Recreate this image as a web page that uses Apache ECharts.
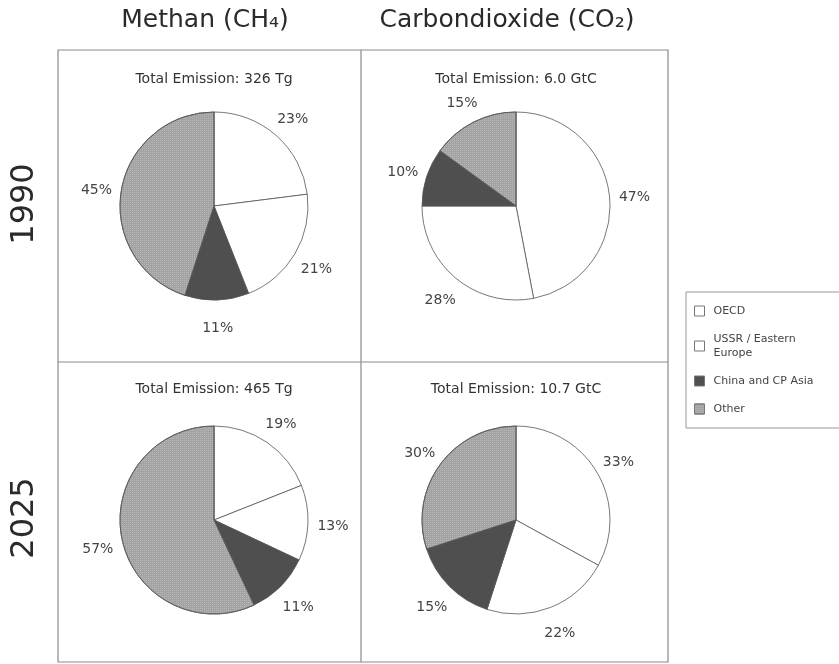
<!DOCTYPE html>
<html><head><meta charset="utf-8">
<script src="https://cdn.jsdelivr.net/npm/echarts/dist/echarts.min.js"></script>
<style>html,body{margin:0;padding:0;background:#fff}#c{width:839px;height:664px}</style>
</head><body><div id="c"></div>
<script>
// ---- data ----
const regions = ['OECD', 'USSR / Eastern Europe', 'China and CP Asia', 'Other'];
const gases = ['Methan (CH\u2084)', 'Carbondioxide (CO\u2082)'];
const years = ['1990', '2025'];
const totals1990 = ['Total Emission: 326 Tg', 'Total Emission: 6.0 GtC'];
const totals2025 = ['Total Emission: 465 Tg', 'Total Emission: 10.7 GtC'];
const ch4_1990 = [23, 21, 11, 45];
const co2_1990 = [47, 28, 10, 15];
const ch4_2025 = [19, 13, 11, 57];
const co2_2025 = [33, 22, 15, 30];

// ---- styling / layout ----
const FONT = 'DejaVu Sans';
const fills = ['#ffffff', '#ffffff', '#4f4f4f', '#a3a3a3'];
const decals = [null, null, null,
  { symbol: 'rect', symbolSize: 1, dashArrayX: [1, 1], dashArrayY: [1, 1], color: 'rgba(255,255,255,0.22)' }];
const colX = [214, 516];
const rowY = [206, 520];
const R = 94, LR = 119;

function makeLayout(values, cx, cy, r) {
  const total = values.reduce((a, b) => a + b, 0);
  return function (p) {
    let cum = 0;
    for (let i = 0; i < p.dataIndex; i++) cum += values[i];
    const mid = (cum + values[p.dataIndex] / 2) / total * 2 * Math.PI;
    return { x: cx + r * Math.sin(mid), y: cy - r * Math.cos(mid) + 3, align: 'center', verticalAlign: 'middle' };
  };
}

function pieSeries(values, cx, cy) {
  return {
    type: 'pie', radius: R, center: [cx, cy], startAngle: 90, clockwise: true,
    avoidLabelOverlap: false, silent: true, animation: false,
    data: values.map((v, i) => {
      const st = { color: fills[i] };
      if (decals[i]) st.decal = decals[i];
      return { name: regions[i], value: v, itemStyle: st };
    }),
    itemStyle: { borderColor: '#555', borderWidth: 0.8 },
    label: { show: true, position: 'outside', formatter: '{c}%', fontFamily: FONT, fontSize: 14, color: '#444' },
    labelLine: { show: false },
    labelLayout: makeLayout(values, cx, cy, LR),
    emphasis: { disabled: true }
  };
}

const panels = [
  [ch4_1990, 0, 0, totals1990[0]],
  [co2_1990, 1, 0, totals1990[1]],
  [ch4_2025, 0, 1, totals2025[0]],
  [co2_2025, 1, 1, totals2025[1]]
];

const graphics = [
  { type: 'rect', shape: { x: 58, y: 50, width: 610, height: 612 }, style: { fill: 'none', stroke: '#8a8a8a', lineWidth: 1.2 }, silent: true },
  { type: 'line', shape: { x1: 361, y1: 50, x2: 361, y2: 662 }, style: { stroke: '#8a8a8a', lineWidth: 1.2 }, silent: true },
  { type: 'line', shape: { x1: 58, y1: 362, x2: 668, y2: 362 }, style: { stroke: '#8a8a8a', lineWidth: 1.2 }, silent: true }
];
gases.forEach((g, i) => graphics.push({
  type: 'text', x: [205, 507][i], y: 20, silent: true,
  style: { text: g, fontFamily: FONT, fontSize: 25, fill: '#2a2a2a', textAlign: 'center', textVerticalAlign: 'middle' }
}));
years.forEach((y, i) => graphics.push({
  type: 'text', x: 25, y: rowY[i] - 2, rotation: Math.PI / 2, silent: true,
  style: { text: y, fontFamily: FONT, fontSize: 32, fill: '#2a2a2a', textAlign: 'center', textVerticalAlign: 'middle' }
}));
panels.forEach(p => graphics.push({
  type: 'text', x: colX[p[1]], y: [79, 389][p[2]], silent: true,
  style: { text: p[3], fontFamily: FONT, fontSize: 14, fill: '#333', textAlign: 'center', textVerticalAlign: 'middle' }
}));

const chart = echarts.init(document.getElementById('c'), null, { renderer: 'canvas' });
chart.setOption({
  animation: false,
  backgroundColor: '#fff',
  legend: {
    orient: 'vertical', left: 686, top: 292,
    data: regions, icon: 'rect', itemWidth: 10, itemHeight: 10, itemGap: 14,
    padding: [12, 40, 12, 8],
    borderColor: '#999', borderWidth: 1,
    selectedMode: false,
    itemStyle: { borderColor: '#777', borderWidth: 1 },
    formatter: n => n === 'USSR / Eastern Europe' ? 'USSR / Eastern\nEurope' : n,
    textStyle: { fontFamily: FONT, fontSize: 11, color: '#444', lineHeight: 14, padding: [0, 0, 0, 4] }
  },
  graphic: graphics,
  series: panels.map(p => pieSeries(p[0], colX[p[1]], rowY[p[2]]))
});
</script>
</body></html>
